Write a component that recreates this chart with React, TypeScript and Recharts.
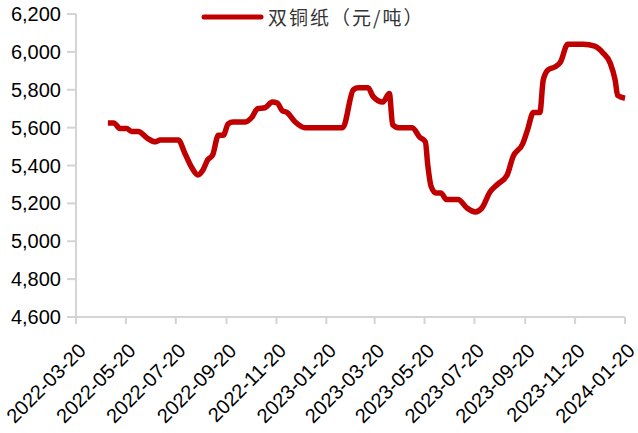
import { LineChart, Line, XAxis, YAxis, Legend } from "recharts";

const dates = [
  "2022-04-28", "2022-05-05", "2022-05-13", "2022-05-21", "2022-05-27", "2022-06-04",
  "2022-06-15", "2022-06-25", "2022-07-01", "2022-07-23", "2022-07-31", "2022-08-09",
  "2022-08-16", "2022-08-22", "2022-08-28", "2022-09-03", "2022-09-10", "2022-09-16",
  "2022-09-22", "2022-09-28", "2022-10-13", "2022-10-21", "2022-10-28", "2022-11-06",
  "2022-11-15", "2022-11-21", "2022-11-27", "2022-12-03", "2022-12-13", "2022-12-25",
  "2023-02-09", "2023-02-22", "2023-02-28", "2023-03-12", "2023-03-18", "2023-03-30",
  "2023-04-07", "2023-04-11", "2023-04-18", "2023-05-05", "2023-05-14", "2023-05-21",
  "2023-05-24", "2023-05-28", "2023-06-03", "2023-06-09", "2023-06-16", "2023-06-30",
  "2023-07-11", "2023-07-21", "2023-07-29", "2023-08-08", "2023-08-17", "2023-08-29",
  "2023-09-05", "2023-09-17", "2023-09-23", "2023-09-30", "2023-10-08", "2023-10-12",
  "2023-10-18", "2023-10-26", "2023-11-02", "2023-11-11", "2023-11-30", "2023-12-14",
  "2023-12-24", "2024-01-02", "2024-01-08", "2024-01-11", "2024-01-20",
];

const prices = [
  5625, 5625, 5595, 5595, 5580, 5580,
  5545, 5525, 5535, 5535, 5465, 5385,
  5350, 5375, 5430, 5455, 5560, 5560,
  5620, 5630, 5630, 5655, 5700, 5705,
  5735, 5730, 5690, 5680, 5630, 5600,
  5600, 5800, 5810, 5810, 5765, 5735,
  5780, 5615, 5600, 5600, 5550, 5525,
  5400, 5290, 5255, 5255, 5220, 5220,
  5175, 5155, 5175, 5260, 5300, 5350,
  5445, 5515, 5590, 5680, 5680, 5850,
  5905, 5920, 5945, 6040, 6040, 6030,
  5995, 5940, 5850, 5770, 5755,
];

const xTickDates = [
  "2022-03-20", "2022-05-20", "2022-07-20", "2022-09-20", "2022-11-20", "2023-01-20",
  "2023-03-20", "2023-05-20", "2023-07-20", "2023-09-20", "2023-11-20", "2024-01-20",
];

const yTicks = [4600, 4800, 5000, 5200, 5400, 5600, 5800, 6000, 6200];

const seriesName = "双铜纸（元/吨）";

const toTime = (s: string) => {
  const [y, m, d] = s.split("-").map(Number);
  return Date.UTC(y, m - 1, d);
};

const data = dates.map((d, i) => ({ t: toTime(d), price: prices[i] }));
const xTicks = xTickDates.map(toTime);

const RED = "#C00000";
const AXIS = "#d4d4d4";

const fmtDate = (t: number) => new Date(t).toISOString().slice(0, 10);

const XTick = (props: any) => {
  const { x, y, payload } = props;
  return (
    <text
      x={x + 11}
      y={y + 26}
      transform={`rotate(-45, ${x + 11}, ${y + 26})`}
      textAnchor="end"
      fontSize={20}
      fontFamily="Liberation Sans, Arial"
      fill="#000"
    >
      {fmtDate(payload.value)}
    </text>
  );
};

const LegendContent = () => (
  <div style={{ position: "relative", height: 34 }}>
    <svg width={70} height={34} style={{ position: "absolute", left: 198, top: 0 }}>
      <line x1={6} y1={17} x2={63} y2={17} stroke={RED} strokeWidth={5} strokeLinecap="round" />
    </svg>
    <span
      style={{
        position: "absolute",
        left: 268,
        top: 4,
        fontSize: 19,
        fontFamily: "Noto Sans CJK SC",
        color: "#333",
        whiteSpace: "nowrap",
        lineHeight: "26px",
        letterSpacing: 2,
      }}
    >
      {seriesName}
    </span>
  </div>
);

export default function App() {
  return (
    <div style={{ width: 638, height: 433, background: "#fff" }}>
      <style>{"body{margin:0}"}</style>
      <LineChart width={638} height={433} data={data} margin={{ top: 14, right: 13, left: 0, bottom: 0 }}>
        <XAxis
          dataKey="t"
          type="number"
          domain={[xTicks[0], xTicks[xTicks.length - 1]]}
          ticks={xTicks}
          interval={0}
          height={116}
          tickSize={7}
          axisLine={{ stroke: AXIS, strokeWidth: 2 }}
          tickLine={{ stroke: AXIS, strokeWidth: 2 }}
          tick={<XTick />}
        />
        <YAxis
          domain={[4600, 6200]}
          ticks={yTicks}
          interval={0}
          width={76}
          tickSize={9}
          tickMargin={6}
          axisLine={{ stroke: AXIS, strokeWidth: 2 }}
          tickLine={{ stroke: AXIS, strokeWidth: 2 }}
          tick={{ fontSize: 20, fill: "#000", fontFamily: "Liberation Sans, Arial" }}
          tickFormatter={(v: number) => v.toLocaleString("en-US")}
        />
        <Legend
          layout="horizontal"
          verticalAlign="middle"
          align="center"
          wrapperStyle={{ top: 0, left: 0, width: 638 }}
          content={<LegendContent />}
        />
        <Line
          type="monotone"
          dataKey="price"
          name={seriesName}
          stroke={RED}
          strokeWidth={5.5}
          strokeLinejoin="round"
          dot={false}
          isAnimationActive={false}
        />
      </LineChart>
    </div>
  );
}
